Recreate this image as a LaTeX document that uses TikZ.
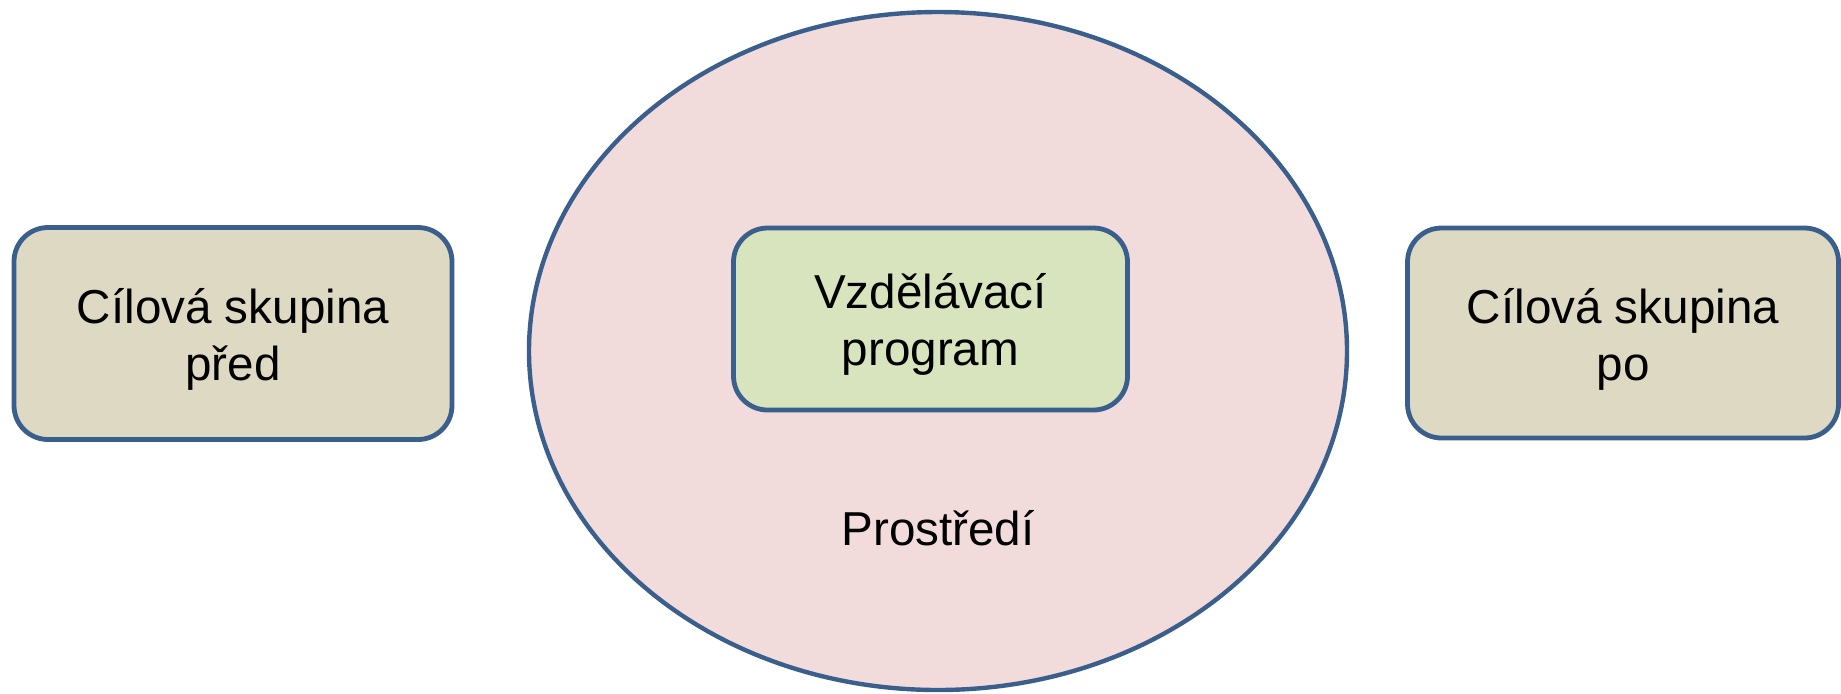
\documentclass[tikz,border=0pt]{standalone}
\usepackage{fontspec}
\setmainfont{Liberation Sans}
\usetikzlibrary{shapes.geometric}
\definecolor{edge}{HTML}{3A5F8D}
\definecolor{tan}{HTML}{DDD9C3}
\definecolor{pinkbg}{HTML}{F2DCDB}
\definecolor{greenbox}{HTML}{D7E4BD}
\tikzset{
  box/.style={draw=edge, line width=2.4pt, rounded corners=17pt, inner sep=0pt},
  env/.style={draw=edge, line width=2.2pt, ellipse, fill=pinkbg, inner sep=0pt},
  lbl/.style={font=\fontsize{23.8pt}{28.5pt}\selectfont, inner sep=0pt, align=center}
}
\begin{document}
\begin{tikzpicture}[x=0.5pt,y=-0.5pt]
\useasboundingbox (0,0) rectangle (1841,693);
\node[env, minimum width=409pt, minimum height=339pt] (env) at (938,351) {};
\node[lbl] (envlbl) at (938,528) {Prostředí};
\node[box, fill=tan, minimum width=219pt, minimum height=106pt] (before) at (233,333.5) {};
\node[lbl] (beforetxt) at ([yshift=-3pt]before.center) {Cílová skupina\\před};
\node[box, fill=greenbox, minimum width=197pt, minimum height=91pt] (prog) at (930.5,319) {};
\node[lbl] (progtxt) at ([yshift=-2.5pt]prog.center) {Vzdělávací\\program};
\node[box, fill=tan, minimum width=215.5pt, minimum height=105pt] (after) at (1623,333) {};
\node[lbl] (aftertxt) at ([yshift=-3pt]after.center) {Cílová skupina\\po};
\end{tikzpicture}
\end{document}
